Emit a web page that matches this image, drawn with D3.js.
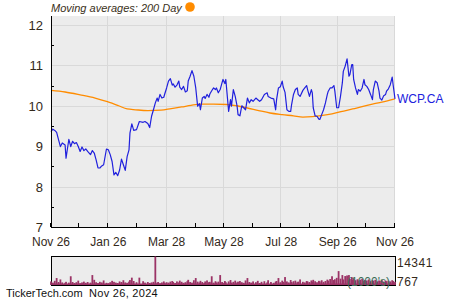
<!DOCTYPE html>
<html>
<head>
<meta charset="utf-8">
<script src="https://cdn.jsdelivr.net/npm/d3@7"></script>
<style>
  body { margin: 0; background: #fff; }
  svg { display: block; font-family: "Liberation Sans", Arial, sans-serif; }
</style>
</head>
<body>
<svg id="chart"></svg>
<script>
const width = 450;
const height = 300;
const plot = {left: 51, right: 395, top: 16, bottom: 227};
const vol = {top: 256, bottom: 285};

// Price series (WCP.CA)
const priceDates = [
  "2023-11-26","2023-11-28","2023-11-30","2023-12-02","2023-12-04","2023-12-06","2023-12-08","2023-12-11","2023-12-12","2023-12-15",
  "2023-12-17","2023-12-19","2023-12-21","2023-12-23","2023-12-25","2023-12-27","2023-12-29","2023-12-31","2024-01-02","2024-01-04",
  "2024-01-07","2024-01-09","2024-01-11","2024-01-13","2024-01-15","2024-01-17","2024-01-19","2024-01-21","2024-01-24","2024-01-26",
  "2024-01-28","2024-01-30","2024-02-01","2024-02-03","2024-02-05","2024-02-07","2024-02-09","2024-02-11","2024-02-13","2024-02-15",
  "2024-02-17","2024-02-18","2024-02-20","2024-02-22","2024-02-25","2024-02-28","2024-03-03","2024-03-05","2024-03-08","2024-03-10",
  "2024-03-12","2024-03-14","2024-03-16","2024-03-18","2024-03-19","2024-03-21","2024-03-23","2024-03-25","2024-03-26","2024-03-28",
  "2024-03-30","2024-04-01","2024-04-03","2024-04-04","2024-04-06","2024-04-08","2024-04-10","2024-04-11","2024-04-13","2024-04-15",
  "2024-04-17","2024-04-19","2024-04-20","2024-04-22","2024-04-24","2024-04-26","2024-04-28","2024-04-30","2024-05-02","2024-05-03",
  "2024-05-05","2024-05-07","2024-05-08","2024-05-10","2024-05-12","2024-05-13","2024-05-15","2024-05-17","2024-05-19","2024-05-20",
  "2024-05-22","2024-05-24","2024-05-26","2024-05-27","2024-05-29","2024-05-30","2024-06-02","2024-06-04","2024-06-05","2024-06-07",
  "2024-06-09","2024-06-11","2024-06-12","2024-06-14","2024-06-16","2024-06-18","2024-06-20","2024-06-22","2024-06-24","2024-06-26",
  "2024-06-28","2024-07-01","2024-07-03","2024-07-05","2024-07-07","2024-07-10","2024-07-13","2024-07-14","2024-07-17","2024-07-20",
  "2024-07-22","2024-07-23","2024-07-25","2024-07-27","2024-07-29","2024-07-30","2024-08-01","2024-08-03","2024-08-05","2024-08-07",
  "2024-08-08","2024-08-10","2024-08-12","2024-08-14","2024-08-15","2024-08-17","2024-08-20","2024-08-22","2024-08-24","2024-08-25",
  "2024-08-27","2024-08-29","2024-08-30","2024-08-31","2024-09-02","2024-09-04","2024-09-06","2024-09-07","2024-09-09","2024-09-11",
  "2024-09-13","2024-09-15","2024-09-16","2024-09-18","2024-09-20","2024-09-22","2024-09-23","2024-09-25","2024-09-27","2024-09-29",
  "2024-10-01","2024-10-02","2024-10-04","2024-10-06","2024-10-08","2024-10-09","2024-10-11","2024-10-12","2024-10-13","2024-10-15",
  "2024-10-17","2024-10-18","2024-10-20","2024-10-22","2024-10-24","2024-10-25","2024-10-27","2024-10-29","2024-10-31","2024-11-02",
  "2024-11-03","2024-11-05","2024-11-07","2024-11-09","2024-11-10","2024-11-12","2024-11-14","2024-11-16","2024-11-17","2024-11-19",
  "2024-11-21","2024-11-23","2024-11-24","2024-11-26"
];
const priceValues = [
  9.36, 9.42, 9.39, 9.34, 9.16, 8.99, 9.08, 9.03, 8.70, 9.17,
  8.99, 9.12, 9.06, 9.09, 8.99, 8.87, 8.98, 8.89, 8.93, 8.87,
  8.79, 8.89, 8.83, 8.66, 8.46, 8.46, 8.51, 8.54, 8.93, 8.91,
  8.79, 8.62, 8.29, 8.35, 8.27, 8.41, 8.68, 8.54, 8.40, 8.74,
  8.91, 9.32, 9.55, 9.39, 9.41, 9.61, 9.59, 9.61, 9.56, 9.46,
  9.74, 9.90, 10.07, 10.19, 10.11, 10.28, 10.19, 10.21, 10.29, 10.44,
  10.61, 10.67, 10.51, 10.54, 10.46, 10.51, 10.61, 10.46, 10.40, 10.48,
  10.34, 10.37, 10.61, 10.73, 10.87, 10.73, 10.44, 9.99, 10.05, 9.90,
  10.19, 10.23, 10.18, 10.28, 10.21, 10.29, 10.37, 10.44, 10.40, 10.44,
  10.32, 10.40, 10.57, 10.65, 10.55, 10.65, 9.86, 10.15, 9.99, 10.40,
  10.23, 9.99, 9.78, 9.75, 10.00, 9.95, 9.90, 10.19, 10.07, 10.15,
  10.11, 10.19, 10.15, 10.11, 10.15, 10.28, 10.32, 10.23, 10.19, 10.17,
  9.90, 10.15, 10.44, 10.47, 10.61, 10.47, 10.33, 9.90, 9.86, 9.86,
  10.03, 10.28, 10.40, 10.44, 10.28, 10.23, 10.38, 10.44, 10.50, 10.40,
  10.23, 10.40, 10.32, 9.95, 9.75, 9.74, 9.67, 9.66, 9.78, 9.90,
  10.07, 10.28, 10.36, 10.44, 10.44, 10.50, 10.36, 9.95, 9.95, 10.23,
  10.57, 10.85, 10.98, 11.16, 10.73, 10.77, 11.02, 11.02, 10.65, 10.44,
  10.28, 10.40, 10.36, 10.44, 10.65, 10.52, 10.48, 10.40, 10.28, 10.15,
  10.40, 10.61, 10.57, 10.36, 10.19, 10.14, 10.25, 10.28, 10.36, 10.42,
  10.52, 10.71, 10.52, 10.17
];
// Daily volume in thousands, same dates as the price series
const volumeValues = [
  1800, 1200, 2100, 3500, 1500, 2800, 1300, 1100, 1600, 1200,
  4400, 1500, 1000, 1400, 2200, 900, 1300, 1700, 1100, 1500,
  1200, 5000, 2600, 1400, 1000, 1600, 1300, 2300, 1100, 900,
  1400, 2100, 1600, 1200, 1000, 1800, 1500, 2400, 1300, 1100,
  1700, 2500, 3700, 2000, 1400, 3700, 1900, 1200, 1500, 1000,
  1300, 1600, 14341, 1200, 1500, 900, 1300, 1800, 1100, 1400,
  1200, 1700, 2000, 1500, 1000, 1800, 1300, 2200, 1600, 1100,
  1400, 1900, 2600, 1500, 1200, 2400, 3500, 1700, 1300, 2100,
  1500, 1000, 1800, 2300, 1400, 1600, 4400, 1200, 1900, 1300,
  1700, 5000, 1500, 1100, 2000, 1400, 1800, 2500, 1200, 1600,
  2200, 1300, 1700, 2000, 1400, 1100, 2300, 3500, 1500, 1200,
  1800, 1400, 2100, 1000, 1600, 1900, 1300, 2400, 1500, 1100,
  1700, 2000, 3500, 1400, 2200, 1600, 4000, 1800, 1300, 2500,
  1500, 1900, 2200, 1400, 1700, 2800, 1600, 1300, 2000, 1800,
  1500, 2300, 1700, 2600, 1900, 1400, 2100, 1800, 2400, 1600,
  2000, 2700, 2200, 3000, 4400, 2500, 2900, 3600, 7000, 3200,
  5000, 2800, 4500, 4800, 5000, 3000, 4000, 2600, 3300, 2400,
  2900, 2200, 2700, 3100, 2000, 2500, 2300, 2800, 1900, 2400,
  2100, 2600, 1800, 2300, 2000, 2500, 1700, 2200, 1900, 2100,
  1800, 2400, 2000, 1600
];

// 200 day moving average
const maDates = [
  "2023-11-26","2023-12-11","2023-12-27","2024-01-12","2024-01-25","2024-02-06","2024-02-15","2024-02-24",
  "2024-03-08","2024-03-22","2024-04-02","2024-04-13","2024-04-23","2024-05-04","2024-05-17","2024-05-31",
  "2024-06-10","2024-06-21","2024-07-04","2024-07-16","2024-07-29","2024-08-10","2024-08-20","2024-08-30",
  "2024-09-10","2024-09-20","2024-10-01","2024-10-12","2024-10-22","2024-11-02","2024-11-12","2024-11-26"
];
const maValues = [
  10.38, 10.34, 10.27, 10.19, 10.10, 10.00, 9.92, 9.90,
  9.88, 9.89, 9.93, 9.97, 10.01, 10.04, 10.04, 10.03,
  10.00, 9.95, 9.88, 9.82, 9.78, 9.75, 9.72, 9.73,
  9.76, 9.80, 9.86, 9.92, 9.98, 10.04, 10.09, 10.17
];

const majorTicks = ["2023-11-26","2024-01-26","2024-03-28","2024-05-28","2024-07-28","2024-09-26","2024-11-26"];
const minorTicks = ["2023-12-26","2024-02-26","2024-04-28","2024-06-28","2024-08-28","2024-10-26"];
const yTicks = [7, 8, 9, 10, 11, 12];
const yMinorTicks = [7.5, 8.5, 9.5, 10.5, 11.5];

const parse = d3.timeParse("%Y-%m-%d");
const fmt = d3.timeFormat("%b %-d");

const prices = priceDates.map((d, i) => ({date: parse(d), value: priceValues[i], volume: volumeValues[i]}));
const ma = maDates.map((d, i) => ({date: parse(d), value: maValues[i]}));

const svg = d3.select("#chart")
    .attr("width", width)
    .attr("height", height);

const x = d3.scaleTime()
    .domain([parse("2023-11-26"), parse("2024-11-26")])
    .range([plot.left, plot.right]);

const y = d3.scaleLinear()
    .domain([7, 12.22])
    .range([plot.bottom, plot.top]);

const yVol = d3.scaleLinear()
    .domain([0, 14341])
    .range([vol.bottom, vol.top + 0.5]);

const textColor = "#33291a";

// plot background
svg.append("rect")
    .attr("x", plot.left).attr("y", plot.top)
    .attr("width", plot.right - plot.left)
    .attr("height", plot.bottom - plot.top)
    .attr("fill", "#ececec");

// grid
svg.append("g").selectAll("line")
    .data(yTicks.slice(1))
    .join("line")
    .attr("x1", plot.left).attr("x2", plot.right)
    .attr("y1", d => Math.round(y(d)) + 0.5).attr("y2", d => Math.round(y(d)) + 0.5)
    .attr("stroke", "#d9d9d9");

svg.append("g").selectAll("line")
    .data(majorTicks.slice(1))
    .join("line")
    .attr("x1", d => Math.round(x(parse(d))) - 0.5).attr("x2", d => Math.round(x(parse(d))) - 0.5)
    .attr("y1", plot.top).attr("y2", plot.bottom)
    .attr("stroke", "#d9d9d9");

// moving average line
svg.append("path")
    .datum(ma)
    .attr("fill", "none")
    .attr("stroke", "#ff8c00")
    .attr("stroke-width", 1.3)
    .attr("d", d3.line().x(d => x(d.date)).y(d => y(d.value)).curve(d3.curveMonotoneX));

// price line
svg.append("path")
    .datum(prices)
    .attr("fill", "none")
    .attr("stroke", "#2020dd")
    .attr("stroke-width", 1.2)
    .attr("stroke-linejoin", "round")
    .attr("d", d3.line().x(d => x(d.date)).y(d => y(d.value)));

// axes lines
svg.append("line")
    .attr("x1", plot.left + 0.5).attr("x2", plot.left + 0.5)
    .attr("y1", plot.top).attr("y2", plot.bottom + 0.5)
    .attr("stroke", "#000");
svg.append("line")
    .attr("x1", plot.left).attr("x2", plot.right)
    .attr("y1", plot.bottom + 0.5).attr("y2", plot.bottom + 0.5)
    .attr("stroke", "#000");

// y ticks (minor, inward) and labels
svg.append("g").selectAll("line")
    .data(yMinorTicks)
    .join("line")
    .attr("x1", plot.left).attr("x2", plot.left + 3)
    .attr("y1", d => Math.round(y(d)) + 0.5).attr("y2", d => Math.round(y(d)) + 0.5)
    .attr("stroke", "#000");

svg.append("g").selectAll("text")
    .data(yTicks)
    .join("text")
    .attr("x", 43)
    .attr("y", d => y(d) + 5)
    .attr("text-anchor", "end")
    .attr("font-size", 13)
    .attr("fill", textColor)
    .text(d => d);

// x ticks (upward) and labels
svg.append("g").selectAll("line")
    .data(majorTicks.concat(minorTicks))
    .join("line")
    .attr("x1", d => Math.round(x(parse(d))) - 0.5).attr("x2", d => Math.round(x(parse(d))) - 0.5)
    .attr("y1", plot.bottom - 4).attr("y2", plot.bottom)
    .attr("stroke", "#000");

svg.append("g").selectAll("text")
    .data(majorTicks)
    .join("text")
    .attr("x", d => x(parse(d)))
    .attr("y", 246)
    .attr("text-anchor", "middle")
    .attr("font-size", 12)
    .attr("fill", textColor)
    .text(d => fmt(parse(d)));

// series label
svg.append("text")
    .attr("x", 397)
    .attr("y", y(priceValues[priceValues.length - 1]) + 4)
    .attr("font-size", 12)
    .attr("fill", "#2020dd")
    .text("WCP.CA");

// title / legend
svg.append("text")
    .attr("x", 51)
    .attr("y", 12)
    .attr("font-size", 11)
    .attr("font-style", "italic")
    .attr("fill", "#3a3020")
    .text("Moving averages: 200 Day");
svg.append("circle")
    .attr("cx", 190).attr("cy", 7).attr("r", 4.8)
    .attr("fill", "#ff8c00");

// volume panel
svg.append("rect")
    .attr("x", plot.left + 0.5).attr("y", vol.top + 0.5)
    .attr("width", plot.right - plot.left)
    .attr("height", vol.bottom - vol.top)
    .attr("fill", "#ececec")
    .attr("stroke", "#000");

svg.append("g").selectAll("rect")
    .data(prices)
    .join("rect")
    .attr("x", d => x(d.date) - 0.9)
    .attr("width", 1.8)
    .attr("y", d => yVol(d.volume))
    .attr("height", d => vol.bottom - yVol(d.volume))
    .attr("fill", "#9b3366");

// baseline of volume bars
svg.append("rect")
    .attr("x", plot.left + 1).attr("y", vol.bottom - 1.5)
    .attr("width", plot.right - plot.left - 1).attr("height", 1.5)
    .attr("fill", "#9b3366");

svg.append("text")
    .attr("x", 390).attr("y", 285.5)
    .attr("text-anchor", "end")
    .attr("font-size", 12)
    .attr("fill", "#3d6e58")
    .text("(1000's)");

svg.append("text")
    .attr("x", 397).attr("y", 267)
    .attr("font-size", 12)
    .attr("letter-spacing", 0.5)
    .attr("fill", textColor)
    .text("14341");
svg.append("text")
    .attr("x", 397).attr("y", 286)
    .attr("font-size", 12)
    .attr("letter-spacing", 0.5)
    .attr("fill", textColor)
    .text("767");

// footer
svg.append("text")
    .attr("x", 6).attr("y", 297)
    .attr("font-size", 11)
    .attr("fill", "#111")
    .text("TickerTech.com");
svg.append("text")
    .attr("x", 89).attr("y", 297)
    .attr("font-size", 11)
    .attr("letter-spacing", 0.3)
    .attr("fill", "#111")
    .text("Nov 26, 2024");
</script>
</body>
</html>
